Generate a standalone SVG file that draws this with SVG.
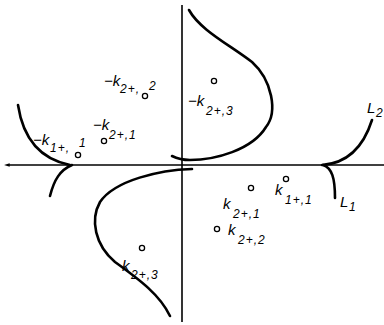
<svg xmlns="http://www.w3.org/2000/svg" width="384" height="325" viewBox="0 0 384 325">
<style>
.axis{stroke:#000;stroke-width:1.6;fill:none}
.curve{stroke:#000;stroke-width:2.6;fill:none;stroke-linecap:round}
.pt{fill:#fff;stroke:#000;stroke-width:1.3}
.m{font-family:"Liberation Sans",Arial,sans-serif;font-style:italic;font-size:15px;fill:#000}
.s{font-family:"Liberation Sans",Arial,sans-serif;font-style:italic;font-size:12px;fill:#000;letter-spacing:1px}
</style>
<defs>
<marker id="arr" viewBox="0 0 10 10" refX="3" refY="5" markerWidth="3.5" markerHeight="3.5" orient="auto-start-reverse">
<path d="M0,2 L10,5 L0,8 z" fill="#000"/>
</marker>
</defs>
<g id="connectors">
<line class="axis" x1="8" y1="165" x2="384" y2="165" marker-start="url(#arr)"/>
<line class="axis" x1="182" y1="5" x2="182" y2="322"/>
<path class="curve" d="M18,105 C23,138 40,159 70,165"/>
<path class="curve" d="M50,196 C54,180 60,170 72,165"/>
<path class="curve" d="M372,120 C365,142 352,163 322,165"/>
<path class="curve" d="M323,165 C332,168 335,178 335,198"/>
<path class="curve" d="M189,10 C200,30 230,45 252,62 C272,80 278,112 266,127 C252,150 215,160 190,160 C182,160 176,158 172,156"/>
<path class="curve" d="M192,169 C160,170 115,180 100,202 C90,220 95,245 115,262 C140,280 160,295 170,316"/>
</g>
<g id="n_mk22">
<text class="m" x="104" y="86">−k</text>
<text class="s" x="120" y="93">2+,</text>
<text class="s" x="149" y="90">2</text>
<circle class="pt" cx="145" cy="96" r="2.6"/>
</g>
<g id="n_mk21">
<text class="m" x="93" y="130">−k</text>
<text class="s" x="109" y="139">2+,1</text>
<circle class="pt" cx="104" cy="141" r="2.6"/>
</g>
<g id="n_mk11">
<text class="m" x="33" y="145">−k</text>
<text class="s" x="50" y="152">1+,</text>
<text class="s" x="79" y="147">1</text>
<circle class="pt" cx="78" cy="155" r="2.6"/>
</g>
<g id="n_mk23">
<text class="m" x="188" y="106">−k</text>
<text class="s" x="206" y="115">2+,3</text>
<circle class="pt" cx="214" cy="81" r="2.6"/>
</g>
<g id="n_k23">
<text class="m" x="122" y="271">k</text>
<text class="s" x="131" y="279">2+,3</text>
<circle class="pt" cx="142" cy="248" r="2.6"/>
</g>
<g id="n_k21">
<text class="m" x="223" y="209">k</text>
<text class="s" x="233" y="218">2+,1</text>
<circle class="pt" cx="251" cy="188" r="2.6"/>
</g>
<g id="n_k11">
<text class="m" x="275" y="195">k</text>
<text class="s" x="285" y="204">1+,1</text>
<circle class="pt" cx="286" cy="179" r="2.6"/>
</g>
<g id="n_k22">
<text class="m" x="228" y="235">k</text>
<text class="s" x="238" y="244">2+,2</text>
<circle class="pt" cx="217" cy="229" r="2.6"/>
</g>
<g id="n_L1">
<text class="m" x="340" y="207">L</text>
<text class="s" x="349" y="211">1</text>
</g>
<g id="n_L2">
<text class="m" x="367" y="113">L</text>
<text class="s" x="376" y="117">2</text>
</g>
</svg>
